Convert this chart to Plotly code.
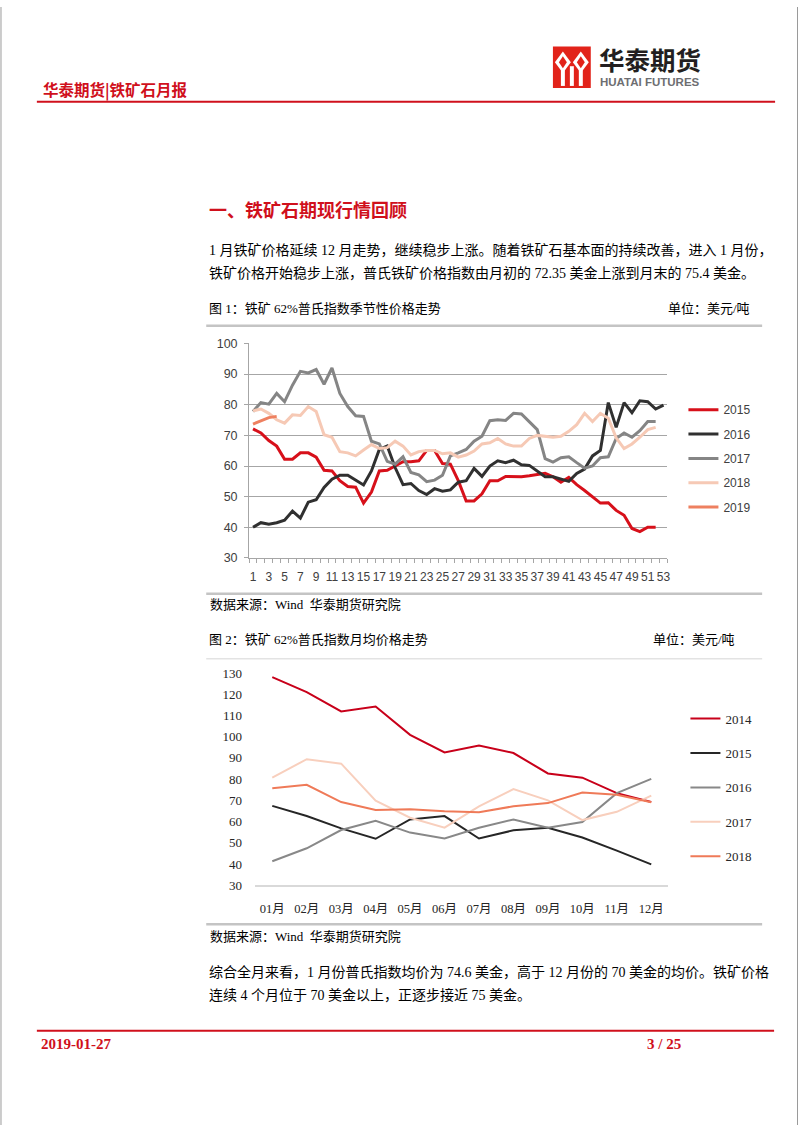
import plotly.graph_objects as go

W, H = 802, 1133

# ---------------- data ----------------
weeks = [1, 2, 3, 4, 5, 6, 7, 8, 9, 10, 11, 12, 13, 14, 15, 16, 17, 18, 19, 20,
         21, 22, 23, 24, 25, 26, 27, 28, 29, 30, 31, 32, 33, 34, 35, 36, 37, 38, 39, 40,
         41, 42, 43, 44, 45, 46, 47, 48, 49, 50, 51, 52, 53]
week_ticks = [1, 3, 5, 7, 9, 11, 13, 15, 17, 19, 21, 23, 25, 27, 29, 31, 33, 35, 37, 39,
              41, 43, 45, 47, 49, 51, 53]

w2015 = [72.1, 70.8, 68.3, 66.5, 62.2, 62.2, 64.3, 64.3, 62.9, 58.6,
         58.4, 55.2, 53.3, 53.1, 47.9, 51.5, 58.4, 58.6, 60.0, 61.4,
         61.4, 61.7, 65.1, 65.1, 60.8, 60.6, 55.2, 48.6, 48.6, 50.9,
         55.2, 55.2, 56.6, 56.5, 56.5, 56.8, 57.1, 57.6, 56.5, 54.7,
         56.3, 53.9, 52.0, 50.1, 47.9, 48.0, 45.5, 43.9, 39.6, 38.6,
         40.0, 40.0]
w2016 = [40.0, 41.5, 41.0, 41.5, 42.3, 45.3, 43.0, 48.2, 49.0, 53.0,
         55.7, 57.0, 57.0, 55.5, 53.8, 58.4, 65.4, 66.5, 59.5, 53.9,
         54.3, 52.0, 50.7, 52.6, 51.8, 52.2, 54.7, 55.2, 59.2, 56.6,
         60.0, 61.7, 61.1, 61.9, 60.4, 60.2, 58.4, 56.5, 56.5, 55.7,
         55.0, 57.6, 59.0, 63.3, 65.1, 80.7, 72.6, 80.7, 77.4, 81.3,
         81.0, 78.6, 79.9]
w2017 = [77.8, 80.7, 80.2, 83.7, 81.0, 86.4, 90.9, 90.4, 91.5, 86.7,
         92.0, 83.7, 79.4, 76.4, 76.2, 68.1, 67.2, 61.5, 60.6, 63.0,
         57.9, 57.1, 54.9, 55.4, 57.0, 63.3, 64.3, 65.4, 68.1, 69.7,
         74.8, 75.1, 74.9, 77.2, 77.0, 74.5, 71.9, 62.4, 61.3, 62.7,
         63.0, 61.1, 59.3, 60.0, 62.7, 63.0, 69.0, 70.8, 69.4, 71.5,
         74.5, 74.5]
w2018 = [78.0, 78.6, 77.2, 75.1, 74.0, 76.7, 76.5, 79.4, 77.8, 70.2,
         69.4, 64.7, 64.3, 63.3, 65.2, 67.0, 65.7, 66.0, 68.1, 66.5,
         63.6, 64.7, 65.1, 65.1, 64.0, 64.3, 62.9, 63.6, 64.9, 67.2,
         67.6, 69.0, 67.2, 66.5, 66.5, 69.0, 70.0, 69.7, 69.4, 69.7,
         71.3, 73.5, 77.2, 74.5, 77.2, 75.6, 69.2, 65.7, 67.2, 69.4,
         71.9, 72.6]
w2019 = [73.7, 74.8, 75.8, 76.2]

months = ["01月", "02月", "03月", "04月", "05月", "06月", "07月", "08月", "09月", "10月", "11月", "12月"]
m2014 = [128.1, 121.0, 111.9, 114.2, 100.9, 92.6, 95.9, 92.3, 82.7, 80.7, 73.4, 69.2]
m2015 = [67.4, 62.6, 56.8, 51.9, 61.0, 62.6, 52.0, 55.9, 57.1, 52.5, 46.3, 39.8]
m2016 = [41.3, 47.4, 56.0, 60.4, 54.8, 52.0, 57.1, 61.0, 57.1, 59.8, 73.4, 80.1]
m2017 = [80.7, 89.4, 87.3, 69.9, 61.8, 57.1, 67.2, 75.3, 70.0, 60.7, 64.6, 72.2]
m2018 = [75.7, 77.3, 69.2, 65.5, 65.8, 64.9, 64.4, 67.2, 68.7, 73.7, 72.6, 69.1]

# ---------------- helpers ----------------
def px(x):
    return x / W

def py(y):
    return 1 - y / H

RED = "#d0101c"
SANS = "Liberation Sans, Arial, sans-serif"
SERIF_CJK = "Liberation Serif, Noto Sans CJK SC, serif"
CJK = "Noto Sans CJK SC, sans-serif"

fig = go.Figure()

# ---------------- chart 1 ----------------
c1 = [("2015", w2015, "#d7101a"), ("2016", w2016, "#303030"), ("2017", w2017, "#858585"),
      ("2018", w2018, "#f6c9b5"), ("2019", w2019, "#ee8060")]
for name, vals, col in c1:
    fig.add_trace(go.Scatter(x=weeks[:len(vals)], y=vals, name=name, mode="lines",
                             line=dict(color=col, width=3), xaxis="x", yaxis="y",
                             legend="legend", legendgroup="a" + name))

c2 = [("2014", m2014, "#c8001a"), ("2015", m2015, "#262626"), ("2016", m2016, "#888888"),
      ("2017", m2017, "#f8cfbd"), ("2018", m2018, "#ef7a58")]
for name, vals, col in c2:
    fig.add_trace(go.Scatter(x=months, y=vals, name=name, mode="lines",
                             line=dict(color=col, width=2), xaxis="x2", yaxis="y2",
                             legend="legend2", legendgroup="b" + name))

GRID = "#a6a6a6"
fig.update_layout(
    width=W, height=H, margin=dict(l=0, r=0, t=0, b=0),
    paper_bgcolor="white", plot_bgcolor="white",
    xaxis=dict(domain=[px(250), px(670)], range=[0.5, 53.5], anchor="y",
               tickmode="array", tickvals=week_ticks, ticktext=[str(v) for v in week_ticks],
               ticks="", showgrid=False, zeroline=False, showline=True, linecolor=GRID, linewidth=1,
               tickfont=dict(family=SANS, size=12, color="#404040"), ticklabelstandoff=8,
               minor=dict(tickmode="linear", tick0=0.5, dtick=1, ticks="outside", ticklen=4,
                          tickcolor=GRID, tickwidth=1, showgrid=False)),
    yaxis=dict(domain=[py(558.3), py(341)], range=[30, 100], anchor="x",
               tickmode="linear", tick0=30, dtick=10, showgrid=True, gridcolor=GRID, gridwidth=1,
               zeroline=False, showline=True, linecolor=GRID, linewidth=1,
               ticks="outside", ticklen=4, tickcolor=GRID,
               tickfont=dict(family=SANS, size=12.5, color="#404040"), ticklabelstandoff=4),
    xaxis2=dict(domain=[px(256), px(671)], range=[-0.5, 11.5], anchor="y2", type="category",
                ticks="", showgrid=False, zeroline=False, showline=True, linecolor="#d9d9d9", linewidth=1.5,
                tickfont=dict(family=SERIF_CJK, size=12.5, color="#262626"), ticklabelstandoff=11),
    yaxis2=dict(domain=[py(890), py(675)], range=[30, 130], anchor="x2",
                tickmode="linear", tick0=30, dtick=10, showgrid=False, zeroline=False, showline=False,
                ticks="", tickfont=dict(family="Liberation Serif, serif", size=13, color="#262626"),
                ticklabelstandoff=12),
    legend=dict(x=px(686), y=py(393.5), xanchor="left", yanchor="top", bgcolor="rgba(0,0,0,0)",
                font=dict(family=SANS, size=12, color="#404040"), traceorder="grouped",
                tracegroupgap=5.3),
    legend2=dict(x=px(688), y=py(706), xanchor="left", yanchor="top", bgcolor="rgba(0,0,0,0)",
                 font=dict(family="Liberation Serif, serif", size=13, color="#262626"),
                 traceorder="grouped", tracegroupgap=14.5),
    showlegend=True,
)

shapes = []
annotations = []

def hline(x0, x1, y, color, width):
    shapes.append(dict(type="line", xref="paper", yref="paper", x0=px(x0), x1=px(x1),
                       y0=py(y), y1=py(y), line=dict(color=color, width=width)))

def text(x, y, s, size, color="#000000", family=SERIF_CJK, anchor="left"):
    annotations.append(dict(xref="paper", yref="paper", x=px(x), y=py(y), text=s,
                            showarrow=False, xanchor=anchor, yanchor="middle",
                            font=dict(size=size, color=color, family=family)))

# page side borders
shapes.append(dict(type="line", xref="paper", yref="paper", x0=px(1), x1=px(1), y0=0, y1=1,
                   line=dict(color="#9a9a9a", width=1)))
shapes.append(dict(type="line", xref="paper", yref="paper", x0=px(800.5), x1=px(800.5), y0=0, y1=1,
                   line=dict(color="#9a9a9a", width=1)))

# header
hline(37, 778, 96, RED, 2)
text(41, 83.5, "<b>华泰期货|铁矿石月报</b>", 15.5, RED, CJK)
# logo block
shapes.append(dict(type="rect", xref="paper", yref="paper", x0=px(555), x1=px(593), y0=py(82), y1=py(40),
                   fillcolor="#e2231a", line=dict(width=0)))
def poly(pts, color):
    d = "M " + " L ".join(f"{px(a):.5f},{py(b):.5f}" for a, b in pts) + " Z"
    shapes.append(dict(type="path", xref="paper", yref="paper", path=d, fillcolor=color, line=dict(width=0)))
poly([(565, 45), (573, 56), (565, 67), (557, 56)], "white")
poly([(583, 45), (591, 56), (583, 67), (575, 56)], "white")
poly([(565, 50), (569, 56), (565, 62), (561, 56)], "#e2231a")
poly([(583, 50), (587, 56), (583, 62), (579, 56)], "#e2231a")
poly([(563, 64), (567, 64), (567, 80), (563, 80)], "white")
poly([(581, 64), (585, 64), (585, 80), (581, 80)], "white")
poly([(572, 60), (576, 60), (576, 80), (572, 80)], "white")
text(599, 52, "<b>华泰期货</b>", 25.5, "#231f20", CJK)
text(600, 76, "<b>HUATAI FUTURES</b>", 11.5, "#6d6e71", "Liberation Sans Narrow, Liberation Sans, sans-serif")

# section title & paragraph
text(208, 205, "<b>一、铁矿石期现行情回顾</b>", 18, RED, CJK)
text(208, 246, "1 月铁矿价格延续 12 月走势，继续稳步上涨。随着铁矿石基本面的持续改善，进入 1 月份，", 14)
text(208, 270, "铁矿价格开始稳步上涨，普氏铁矿价格指数由月初的 72.35 美金上涨到月末的 75.4 美金。", 14)

# figure 1 caption
text(208, 306, "图 1：铁矿 62%普氏指数季节性价格走势", 13)
text(668, 306, "单位：美元/吨", 13)
hline(207, 765, 323, "#c4c4c4", 2.5)
hline(207, 765, 594.5, "#c4c4c4", 2.5)
text(209, 606, "数据来源：Wind  华泰期货研究院", 13)

# figure 2 caption
text(208, 641, "图 2：铁矿 62%普氏指数月均价格走势", 13)
text(653, 641, "单位：美元/吨", 13)
hline(207, 765, 660.5, "#e3e3e3", 1.5)
hline(207, 765, 929.5, "#c4c4c4", 2.5)
text(209, 941.5, "数据来源：Wind  华泰期货研究院", 13)

# closing paragraph
text(208, 977.5, "综合全月来看，1 月份普氏指数均价为 74.6 美金，高于 12 月份的 70 美金的均价。铁矿价格", 14)
text(208, 1001.5, "连续 4 个月位于 70 美金以上，正逐步接近 75 美金。", 14)

# footer
hline(37, 777, 1037.5, RED, 2)
text(39, 1051, "<b>2019-01-27</b>", 15, RED, "Liberation Serif, serif")
text(647, 1051, "<b>3 / 25</b>", 15, RED, "Liberation Serif, serif")

fig.update_layout(shapes=shapes, annotations=annotations)
fig.write_html("out.html", config={"displayModeBar": False},
               post_script="document.body.style.margin='0';document.body.style.overflow='hidden';")
